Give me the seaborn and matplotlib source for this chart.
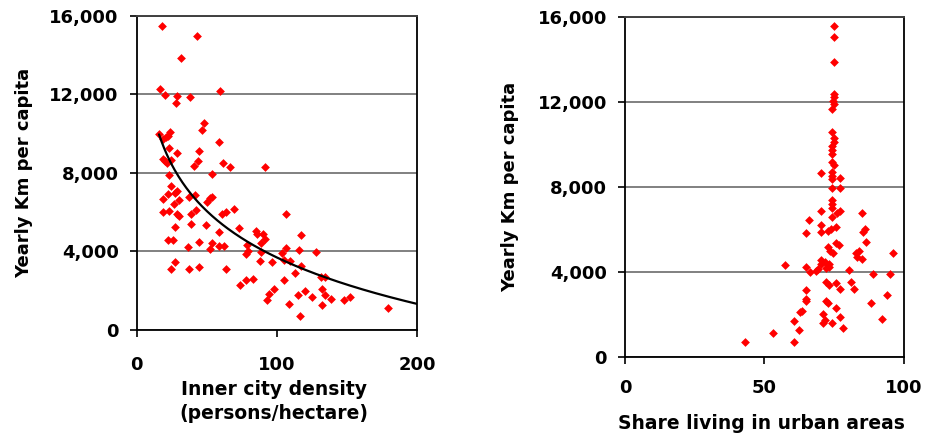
import numpy as np
import pandas as pd
import matplotlib
matplotlib.use('Agg')
import matplotlib.pyplot as plt
import seaborn as sns
from matplotlib.ticker import StrMethodFormatter

# Left panel: inner city density (persons/hectare) vs yearly km per capita
density = [18.2, 42.8, 31.6, 16.6, 20.4, 28.7, 38.0, 27.8, 59.4, 47.8, 46.8, 15.9, 23.7, 22.5,
           20.9, 19.0, 58.7, 23.2, 28.7, 44.4, 18.5, 20.4, 21.8, 24.7, 43.7, 41.1, 61.3, 66.5,
           91.2, 23.0, 53.9,
           24.7, 22.5, 27.3, 28.9, 19.0, 26.8, 30.4, 37.5, 41.6, 50.3, 52.2, 53.9, 18.7, 23.2,
           28.7, 30.1, 38.9, 42.0, 60.8, 63.9, 69.1, 106.2, 27.1, 38.9, 49.2, 58.9, 72.9, 85.0,
           86.0, 90.2, 91.4, 88.4, 22.1, 26.1, 44.6, 53.9, 58.9, 62.2, 36.6, 52.5, 78.4, 79.1,
           77.7, 88.6, 106.2, 103.3, 27.1, 24.7, 37.3, 44.6, 63.6, 87.9, 96.2, 105.2, 77.7, 82.7,
           73.8, 105.2, 97.9, 94.5, 92.7, 108.2,
           117.3, 115.9, 127.6, 109.3, 116.9, 112.6, 131.1, 134.2, 131.9, 119.7, 115.2, 125.2,
           134.0, 138.7, 147.5, 152.2, 132.3, 116.6, 179.1]
km_density = [15500, 15000, 13850, 12300, 11950, 11900, 11850, 11550, 12150, 10550, 10200, 10000,
              10100, 9900, 9800, 9700, 9550, 9250, 9000, 9100, 8700, 8600, 8500, 8650, 8600, 8350,
              8500, 8300, 8300, 7900, 7950,
              7330, 6900, 6950, 7080, 6650, 6400, 6600, 6770, 6860, 6520, 6690, 6770, 6000, 6050,
              5900, 5800, 5900, 6100, 5900, 6000, 6150, 5900, 5250, 5400, 5350, 5000, 5200, 5020,
              4870, 4850, 4620, 4430, 4580, 4580, 4480, 4430, 4260, 4260, 4200, 4100, 4310, 4000,
              3850, 3940, 4170, 3890, 3460, 3080, 3080, 3200, 3080, 3500, 3440, 3550, 2540, 2580,
              2270, 2540, 2070, 1810, 1500, 1320,
              4820, 4050, 3970, 3490, 3250, 2900, 2660, 2690, 2080, 1980, 1780, 1670,
              1780, 1570, 1520, 1670, 1270, 700, 1110]

# Right panel: share living in urban areas (%) vs yearly km per capita
urban = [75.0, 75.0, 75.0, 75.0, 75.0, 74.4, 75.0, 74.1, 74.1, 74.8, 74.8, 74.3, 74.3, 74.1,
         74.1, 74.8, 70.3, 74.1, 74.1, 74.1, 77.1,
         74.1, 77.1, 74.1, 74.1, 74.1, 77.1, 76.1, 70.3, 84.8, 74.1, 65.9, 70.3, 70.3, 65.0,
         72.6, 74.0, 75.8, 86.0, 85.2, 86.5, 75.8, 76.7, 72.6, 73.5, 74.4, 84.0, 82.8, 96.2,
         83.1, 84.8, 70.3, 73.1, 70.2, 73.1, 65.0, 69.3, 68.6, 66.3, 80.3, 88.9, 94.9, 71.9,
         73.1, 75.5, 81.0, 77.1, 82.2, 71.6, 72.0,
         93.8, 65.0, 65.0, 65.0, 63.3, 71.9, 72.9, 75.8, 88.1, 62.7, 71.1, 77.1, 92.2, 60.4,
         71.7, 71.1, 74.3, 78.2, 62.4, 60.4, 43.0, 52.9, 57.2]
km_urban = [15580, 15050, 13870, 12350, 12200, 12050, 11880, 11640, 10590, 10280, 10120, 9920,
            9730, 9540, 9150, 9020, 8630, 8680, 8500, 8350, 8420,
            7950, 7950, 7370, 7170, 7010, 6870, 6780, 6860, 6750, 6590, 6430, 6200, 5880, 5840,
            5920, 6000, 6090, 6000, 5870, 5410, 5370, 5270, 5180, 4990, 4890, 4970, 4870, 4890,
            4680, 4580, 4550, 4360, 4360, 4240, 4240, 4110, 4050, 3970, 4080, 3890, 3890, 3530,
            3370, 3450, 3520, 3180, 3180, 4450, 4150,
            2900, 3150, 2620, 2720, 2140, 2635, 2510, 2310, 2510, 2090, 2010, 1880, 1770, 1690,
            1730, 1570, 1570, 1365, 1256, 706, 690, 1130, 4315]

left_df = pd.DataFrame({'density': density, 'km': km_density})
right_df = pd.DataFrame({'urban': urban, 'km': km_urban})

sns.set_style('white')
plt.rcParams['font.family'] = ['DejaVu Sans']
plt.rcParams['font.weight'] = 'bold'
plt.rcParams['text.color'] = 'black'
plt.rcParams['axes.labelcolor'] = 'black'
plt.rcParams['xtick.color'] = 'black'
plt.rcParams['ytick.color'] = 'black'

fig = plt.figure(figsize=(9.27, 4.41), dpi=100)
ax1 = fig.add_axes([0.1475, 0.2528, 0.3027, 0.7109])
ax2 = fig.add_axes([0.6742, 0.1912, 0.3010, 0.7710])

for ax, df, xcol in [(ax1, left_df, 'density'), (ax2, right_df, 'urban')]:
    sns.scatterplot(data=df, x=xcol, y='km', ax=ax, color='#ff0000', marker='D',
                    s=20, linewidth=0, zorder=3)

# logarithmic trend line for density
coef = np.polyfit(np.log(left_df['density']), left_df['km'], 1)
xs = np.linspace(left_df['density'].min(), 200, 200)
ax1.plot(xs, coef[0] * np.log(xs) + coef[1], color='black', lw=1.6, zorder=4)

ax1.set_xlim(0, 200)
ax1.set_xticks([0, 100, 200])
ax2.set_xlim(0, 100)
ax2.set_xticks([0, 50, 100])

for ax in (ax1, ax2):
    ax.set_ylim(0, 16000)
    ax.set_yticks([0, 4000, 8000, 12000, 16000])
    ax.yaxis.set_major_formatter(StrMethodFormatter('{x:,.0f}'))
    ax.yaxis.grid(True, color='#808080', lw=1.4)
    ax.set_axisbelow(True)
    for side in ['left', 'right', 'bottom']:
        ax.spines[side].set_visible(True)
        ax.spines[side].set_color('black')
        ax.spines[side].set_linewidth(1.3)
    ax.spines['top'].set_color('#404040')
    ax.spines['top'].set_linewidth(1.4)
    ax.tick_params(axis='both', direction='out', length=5, width=1.2, color='black',
                   labelcolor='black', labelsize=13, left=True, bottom=True)
    ax.tick_params(axis='y', pad=8)
    for lab in ax.get_xticklabels() + ax.get_yticklabels():
        lab.set_fontweight('bold')

ax1.tick_params(axis='x', pad=14)
ax2.tick_params(axis='x', pad=11)

ax1.set_xlabel('Inner city density\n(persons/hectare)', fontsize=13.5, fontweight='bold',
               linespacing=1.35, color='black')
ax1.set_ylabel('Yearly Km per capita', fontsize=13, fontweight='bold', color='black')
ax2.set_xlabel('Share living in urban areas', fontsize=13.5, fontweight='bold', color='black')
ax2.set_ylabel('Yearly Km per capita', fontsize=13, fontweight='bold', color='black')

ax1.xaxis.set_label_coords(0.49, -0.16)
ax1.yaxis.set_label_coords(-0.37, 0.5)
ax2.xaxis.set_label_coords(0.49, -0.17)
ax2.yaxis.set_label_coords(-0.38, 0.5)

plt.savefig('out.png', dpi=100)
plt.close()
